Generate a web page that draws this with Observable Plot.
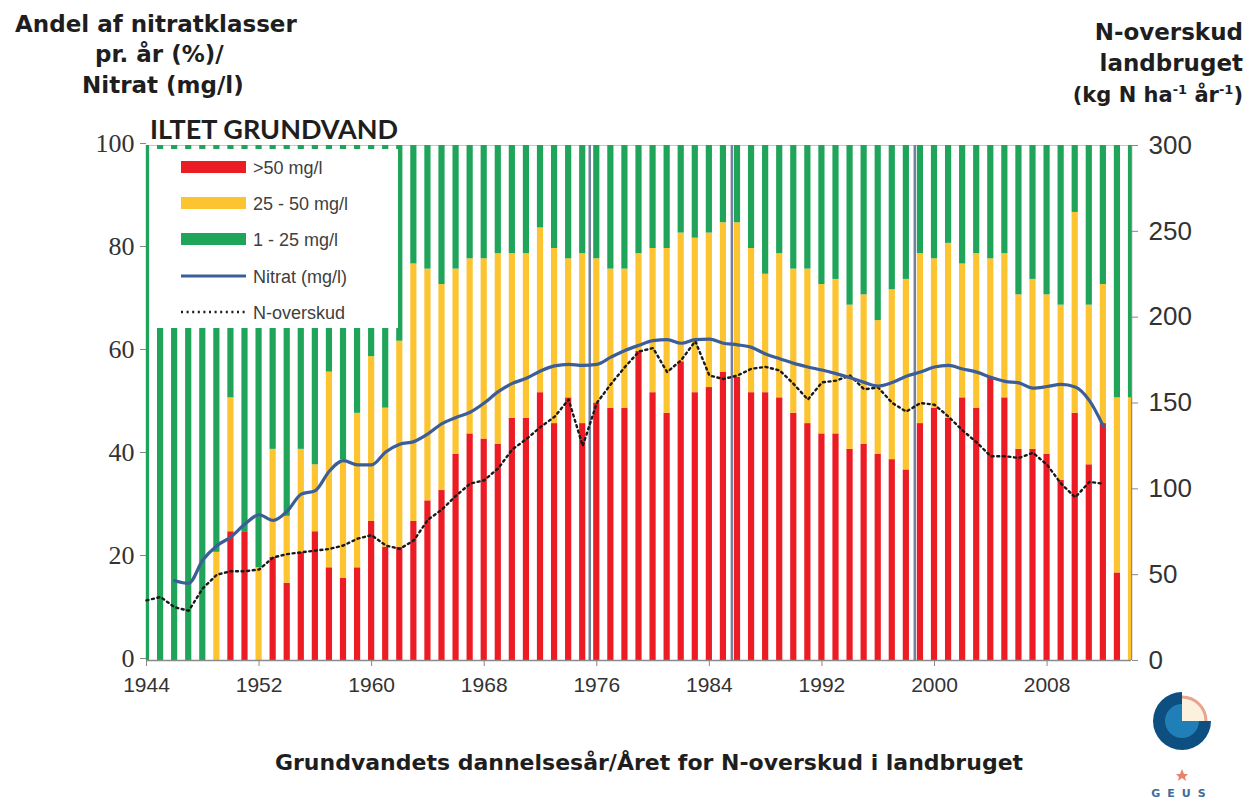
<!DOCTYPE html>
<html><head><meta charset="utf-8">
<script src="https://cdn.jsdelivr.net/npm/d3@7"></script>
<script src="https://cdn.jsdelivr.net/npm/@observablehq/plot@0.6"></script>
<style>
body{margin:0;background:#fff;}
#wrap{position:relative;width:1247px;height:801px;overflow:hidden;background:#fff;}
#wrap svg{position:absolute;left:0;top:0;}
</style></head><body><div id="wrap"></div>
<script>
// ---- data ----
const years = d3.range(1944, 2015);
const classes = [">50 mg/l", "25 - 50 mg/l", "1 - 25 mg/l"];
const classColors = ["#ec1c24", "#fcc431", "#1fa45a"];
const over50 = [0,0,0,0,0,0,25,25,0,20, 15,21,25,18,16,18,27,22,22,27, 31,33,40,44,43,42,47,47,52,46, 51,46,50,49,49,60,52,48,58,52, 53,56,55,52,52,51,48,46,44,44, 41,42,40,39,37,46,49,47,51,49, 55,51,41,41,40,35,48,38,46,17, 0];
const mid25to50 = [0,0,0,0,0,21,26,0,18,21, 13,20,13,38,23,30,32,27,40,50, 45,40,36,34,35,37,32,32,32,34, 27,33,28,27,27,19,28,32,25,30, 30,29,30,28,23,28,28,30,29,30, 28,29,26,33,37,33,29,34,26,30, 23,28,30,33,31,34,39,31,27,34, 51];
const low1to25 = [100,100,100,100,100,79,49,75,82,59, 72,59,62,44,61,52,41,51,38,23, 24,27,24,22,22,21,21,21,16,20, 22,21,22,24,24,21,20,20,17,18, 17,15,15,20,25,21,24,24,27,26, 31,29,34,28,26,21,22,19,23,21, 22,21,29,26,29,31,13,31,27,49, 49];
const nitratYears = d3.range(1946, 2013);
const nitrat = [15.5,15,19.5,22.3,24,26.5,28.3,27.2,29,32.3, 33,36.8,38.8,38,38,40.5,42,42.5,44,46, 47.2,48.2,50,52.2,53.8,54.8,56.2,57.2,57.5,57.3, 57.5,58.9,60.2,61.2,62.1,62.3,61.6,62.3,62.4,61.6, 61.3,60.8,59.5,58.6,57.7,57,56.4,55.7,54.9,54, 53.3,54,55.2,56,57,57.3,56.6,56,55,54.2, 53.9,52.9,53.2,53.6,53.1,50.5,45.5];
const overskudYears = d3.range(1944, 2013);
const overskud = [35,37,31,29,42,50,52,52,53,60, 62,63,64,65,67,71,73,67,65,70, 82,88,96,103,105,112,123,129,136,142, 152,125,150,161,171,180,182,168,175,186, 166,164,166,170,171,169,161,152,162,163, 166,158,159,150,145,150,149,142,134,127, 119,119,118,121,114,103,95,104,103];
const markerYears = [1975.5, 1985.6, 1998.6];
const leftTicks = [0, 20, 40, 60, 80, 100];
const rightTicks = [0, 50, 100, 150, 200, 250, 300];
const xTicks = [1944, 1952, 1960, 1968, 1976, 1984, 1992, 2000, 2008];
const rightMax = 300; // right axis 0-300 maps to left 0-100

// ---- tables ----
const barRows = [];
years.forEach((yr, i) => {
  let base = 0;
  [over50[i], mid25to50[i], low1to25[i]].forEach((v, k) => {
    barRows.push({year: yr, cls: classes[k], y1: base, y2: base + v});
    base += v;
  });
});
const nitratRows = nitratYears.map((yr, i) => ({year: yr, v: nitrat[i]}));
const overskudRows = overskudYears.map((yr, i) => ({year: yr, v: overskud[i] * 100 / rightMax}));

const half = 0.22;
const dots = "2,3.6";
const chart = Plot.plot({
  width: 1247, height: 801,
  marginLeft: 146, marginRight: 116, marginTop: 145, marginBottom: 141,
  x: {type: "linear", domain: [1944, 2014]},
  y: {domain: [0, 100]},
  color: {domain: classes, range: classColors},
  style: {background: "transparent"},
  marks: [
    Plot.ruleX([1944, 2014], {stroke: "#8a8a8a", strokeWidth: 1.5}),
    Plot.ruleY([100], {stroke: "#c8c8c8"}),
    Plot.rect(barRows, {x1: d => d.year - half, x2: d => d.year + half, y1: "y1", y2: "y2", fill: "cls", clip: true}),
    Plot.ruleY([0], {stroke: "#8a8a8a", strokeWidth: 1.5}),
    Plot.ruleX(markerYears, {stroke: "#73819e", strokeWidth: 2.5}),
    Plot.line(overskudRows, {x: "year", y: "v", stroke: "#1a1a1a", strokeWidth: 2.4, strokeDasharray: dots}),
    Plot.line(nitratRows, {x: "year", y: "v", stroke: "#3b5e98", strokeWidth: 3.2, curve: "monotone-x"}),
    Plot.axisY(leftTicks, {anchor: "left", label: null, tickSize: 6, tickPadding: 6, fontSize: 26, dy: -2, fontFamily: "Liberation Serif", fill: "#333", stroke: "#888"}),
    Plot.axisY(rightTicks.map(v => v * 100 / rightMax), {anchor: "right", label: null, tickSize: 6, tickPadding: 11, tickFormat: d => String(Math.round(d * rightMax / 100)), fontSize: 26, fontFamily: "Liberation Sans", fill: "#333", stroke: "#888"}),
    Plot.axisX(xTicks, {anchor: "bottom", label: null, tickSize: 6, tickPadding: 11, tickFormat: d => String(d), fontSize: 21, fontFamily: "Liberation Sans", fill: "#333", stroke: "#888"})
  ]
});
const wrap = document.getElementById("wrap");
wrap.appendChild(chart);

// ---- overlay: titles, legend, logo ----
const legendY = [167, 203, 239, 276, 312];
const sw = classColors.map((c, k) => `<rect x="181" y="${legendY[k]-6}" width="65" height="12" fill="${c}"/>`).join("");
const legendLabels = [...classes, "Nitrat (mg/l)", "N-overskud"].map((t, k) => `<text x="253" y="${legendY[k]+6.5}">${t.replace(">", "&gt;")}</text>`).join("");
const cx = 1182, cy = 721, r = 29;
const overlay = `
<svg xmlns="http://www.w3.org/2000/svg" width="1247" height="801">
  <g font-family="DejaVu Sans" font-weight="bold" fill="#1e1e1e" font-size="23">
    <text x="15" y="32">Andel af nitratklasser</text>
    <text x="95" y="62">pr. år (%)/</text>
    <text x="82" y="93">Nitrat (mg/l)</text>
    <text x="1243" y="40" text-anchor="end">N-overskud</text>
    <text x="1243" y="71" text-anchor="end">landbruget</text>
    <text x="1243" y="102" text-anchor="end" font-size="21">(kg N ha<tspan dy="-8" font-size="13">-1</tspan><tspan dy="8"> år</tspan><tspan dy="-8" font-size="13">-1</tspan><tspan dy="8">)</tspan></text>
    <text x="649" y="770" text-anchor="middle" font-size="22">Grundvandets dannelsesår/Året for N-overskud i landbruget</text>
  </g>
  <text x="150" y="139" font-family="Lato" font-weight="bold" font-size="27" fill="#1e1e1e">ILTET GRUNDVAND</text>
  <rect x="150" y="149" width="248" height="179" fill="#fff"/>
  ${sw}
  <line x1="181" x2="246" y1="${legendY[3]}" y2="${legendY[3]}" stroke="#3b5e98" stroke-width="3"/>
  <line x1="181" x2="246" y1="${legendY[4]}" y2="${legendY[4]}" stroke="#1a1a1a" stroke-width="2.4" stroke-dasharray="${dots}"/>
  <g font-family="Liberation Sans" font-size="18" fill="#404040">${legendLabels}</g>
  <g>
    <path d="M${cx},${cy} L${cx},${cy-r} A${r},${r} 0 1 0 ${cx+r},${cy} Z" fill="#0d4f80"/>
    <path d="M${cx},${cy} L${cx},${cy-17} A17,17 0 1 0 ${cx+17},${cy} Z" fill="#2487bf" opacity="0.85"/>
    <path d="M${cx},${cy} L${cx},${cy-23} A23,23 0 0 1 ${cx+23},${cy} Z" fill="#fbf1dc"/>
    <path d="M${cx},${cy-24} A24,24 0 0 1 ${cx+24},${cy}" fill="none" stroke="#e9a48f" stroke-width="3"/>
    <polygon points="${cx},${cy+48} ${cx+2},${cy+53} ${cx+6},${cy+53} ${cx+3},${cy+56} ${cx+4},${cy+60} ${cx},${cy+57} ${cx-4},${cy+60} ${cx-3},${cy+56} ${cx-6},${cy+53} ${cx-2},${cy+53}" fill="#e8826c"/>
    <text x="${cx}" y="797" text-anchor="middle" font-family="DejaVu Sans" font-weight="bold" font-size="11" letter-spacing="7" fill="#3d6c9c">GEUS</text>
  </g>
</svg>`;
wrap.insertAdjacentHTML("beforeend", overlay);
</script>
</body></html>
